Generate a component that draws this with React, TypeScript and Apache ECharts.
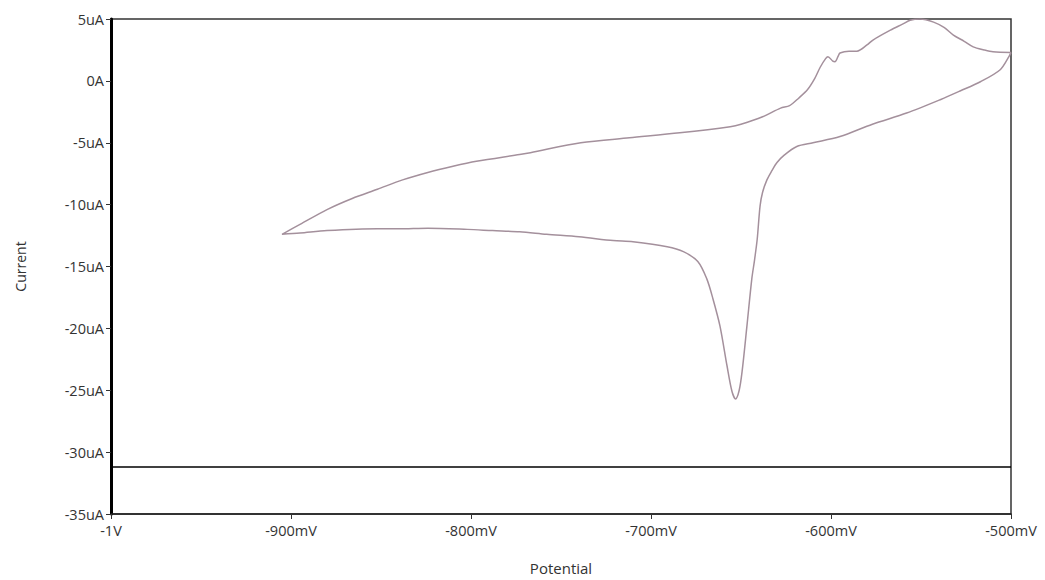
import React, { useEffect, useRef } from "react";
import * as echarts from "echarts";

// Potential (mV), current (uA) — cathodic sweep from -500 mV down to the vertex
const cathodicPotential = [
  -500, -501, -506, -517, -528, -539, -558, -577, -595, -610, -619, -626, -630, -633, -635.6, -638,
  -639.4, -641, -642.5, -644, -646.7, -649.4, -651, -653, -655, -657.8, -661.7, -665.6, -669, -674,
  -682, -691, -710, -721, -740, -758, -773, -788, -802, -824, -840, -852, -880, -895, -905,
];
const cathodicCurrent = [
  2.3, 2.0, 0.9, -0.07, -0.8, -1.5, -2.6, -3.5, -4.5, -5.0, -5.3, -6.0, -6.6, -7.3, -8.0, -9.0,
  -10.1, -12.8, -14.5, -16.0, -19.8, -23.5, -25.0, -25.7, -25.1, -23.0, -19.8, -17.6, -16.0, -14.6,
  -13.8, -13.4, -13.0, -12.9, -12.6, -12.4, -12.2, -12.1, -12.0, -11.9, -11.95, -11.95, -12.1, -12.3, -12.4,
];
// Anodic return sweep from the vertex back to -500 mV
const anodicPotential = [
  -905, -895, -880, -866, -852, -838, -824, -810, -797, -773, -767, -739, -712, -684, -656, -650,
  -638, -628, -623, -618, -613, -609, -606, -603, -601.7, -599, -597.8, -596, -595, -590, -585.6,
  -580, -576.7, -567, -560, -556, -550.5, -543, -537, -532, -526, -521, -515, -510, -500,
];
const anodicCurrent = [
  -12.4, -11.6, -10.4, -9.5, -8.76, -8.0, -7.4, -6.9, -6.5, -5.95, -5.8, -5.0, -4.6, -4.2, -3.7, -3.5,
  -2.9, -2.2, -2.0, -1.4, -0.7, 0.2, 1.1, 1.8, 1.95, 1.6, 1.55, 2.0, 2.25, 2.4, 2.4,
  2.9, 3.3, 4.1, 4.6, 4.9, 5.0, 4.75, 4.3, 3.7, 3.2, 2.75, 2.5, 2.35, 2.3,
];
// Black baseline trace
const baselinePotential = [-1000, -500];
const baselineCurrent = [-31.2, -31.2];

const xTicks = [-1000, -900, -800, -700, -600, -500];
const yTicks = [5, 0, -5, -10, -15, -20, -25, -30, -35];

export default function App() {
  const ref = useRef<HTMLDivElement>(null);
  useEffect(() => {
    if (!ref.current) return;
    const chart = echarts.init(ref.current, undefined, { renderer: "svg" });
    const loop: number[][] = [];
    cathodicPotential.forEach((v, i) => loop.push([v, cathodicCurrent[i]]));
    anodicPotential.forEach((v, i) => loop.push([v, anodicCurrent[i]]));
    const base = baselinePotential.map((v, i) => [v, baselineCurrent[i]]);
    const font = "'Open Sans', 'DejaVu Sans', sans-serif";
    chart.setOption({
      animation: false,
      backgroundColor: "#ffffff",
      grid: { left: 111, top: 19, right: 34, bottom: 64, show: true, borderColor: "#333", borderWidth: 1.5, backgroundColor: "transparent" },
      xAxis: {
        type: "value",
        min: xTicks[0],
        max: xTicks[xTicks.length - 1],
        interval: 100,
        name: "Potential",
        nameLocation: "middle",
        nameGap: 46,
        nameTextStyle: { fontFamily: font, fontSize: 15, color: "#333" },
        axisLine: { show: true, onZero: false, lineStyle: { color: "#222", width: 1.5 } },
        axisTick: { show: true, length: 5, lineStyle: { color: "#333" } },
        splitLine: { show: false },
        axisLabel: {
          fontFamily: font,
          fontSize: 14.5,
          color: "#333",
          margin: 9,
          formatter: (v: number) => (v === -1000 ? "-1V" : `${v}mV`),
        },
      },
      yAxis: {
        type: "value",
        min: yTicks[yTicks.length - 1],
        max: yTicks[0],
        interval: 5,
        name: "Current",
        nameLocation: "middle",
        nameGap: 84,
        nameTextStyle: { fontFamily: font, fontSize: 14, color: "#333" },
        axisLine: { show: true, onZero: false, lineStyle: { color: "#000", width: 3 } },
        axisTick: { show: true, length: 5, lineStyle: { color: "#333" } },
        splitLine: { show: false },
        axisLabel: {
          fontFamily: font,
          fontSize: 14.5,
          color: "#333",
          margin: 7,
          formatter: (v: number) => (v === 0 ? "0A" : `${v}uA`),
        },
      },
      series: [
        {
          type: "line",
          data: base,
          showSymbol: false,
          lineStyle: { color: "#000", width: 1.5 },
          z: 2,
        },
        {
          type: "line",
          data: loop,
          showSymbol: false,
          smooth: 0.3,
          lineStyle: { color: "#a4909c", width: 1.5 },
          z: 3,
        },
      ],
    });
    return () => chart.dispose();
  }, []);
  return <div ref={ref} style={{ position: "fixed", left: 0, top: 0, width: 1045, height: 580 }} />;
}
